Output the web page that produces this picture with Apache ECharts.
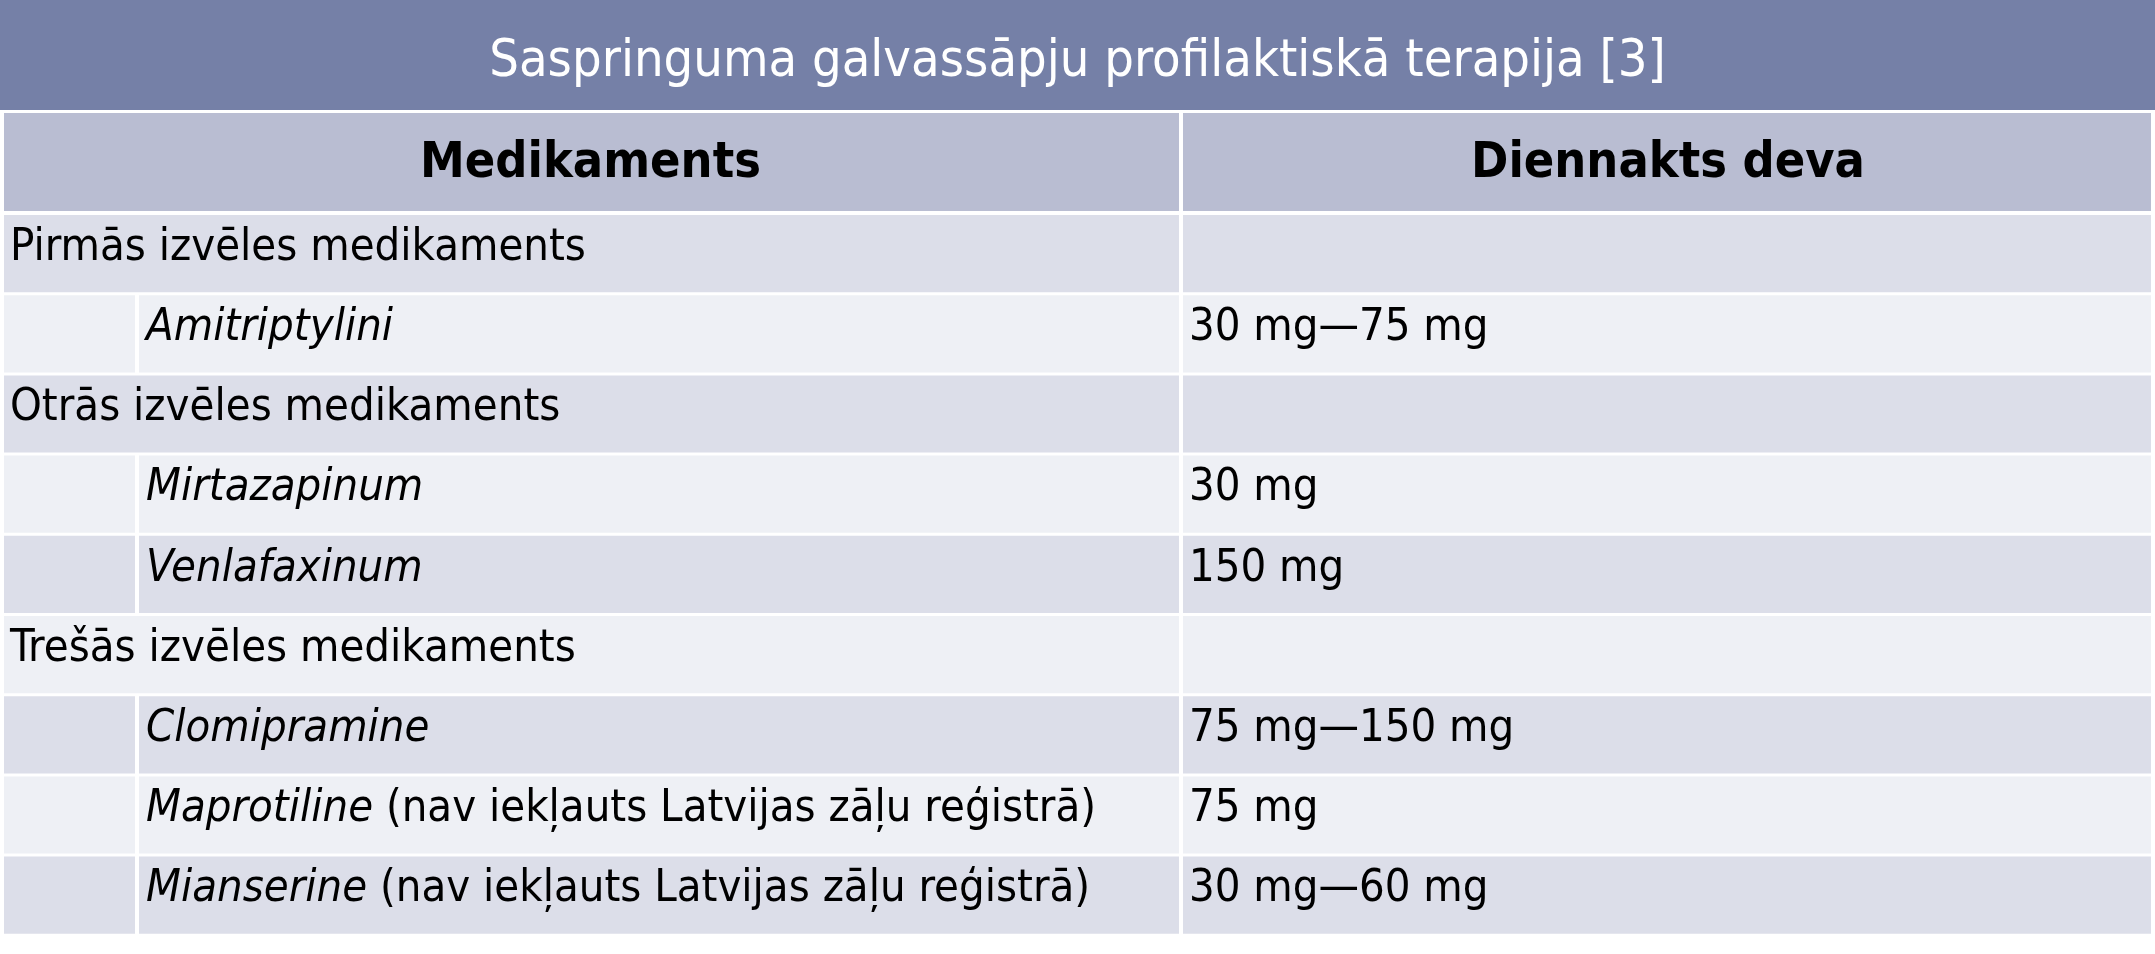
<!DOCTYPE html>
<html><head><meta charset="utf-8">
<script src="https://cdn.jsdelivr.net/npm/echarts@6/dist/echarts.min.js"></script>
<style>html,body{margin:0;background:#fff}#main{width:2155px;height:954px}</style>
</head><body><div id="main"></div>
<script>
var title = 'Saspringuma galvassāpju profilaktiskā terapija [3]';
var headers = ['Medikaments', 'Diennakts deva'];
// level 0 = group row, level 1 = drug row
var drugs = ['Pirmās izvēles medikaments', 'Amitriptylini', 'Otrās izvēles medikaments', 'Mirtazapinum', 'Venlafaxinum',
  'Trešās izvēles medikaments', 'Clomipramine', 'Maprotiline', 'Mianserine'];
var notes = ['', '', '', '', '', '', '', ' (nav iekļauts Latvijas zāļu reģistrā)', ' (nav iekļauts Latvijas zāļu reģistrā)'];
var levels = [0, 1, 0, 1, 1, 0, 1, 1, 1];
var doses = ['', '30 mg—75 mg', '', '30 mg', '150 mg', '', '75 mg—150 mg', '75 mg', '30 mg—60 mg'];

var W = 2155, colX = 1181, indent = 137, rowH = 80.2, top0 = 213;
var font = "'Liberation Sans Narrow','DejaVu Sans Condensed',sans-serif";
var els = [];
function rect(x, y, w, h, c) {
  els.push({type: 'rect', shape: {x: x, y: y, width: w, height: h}, style: {fill: c}});
}
rect(0, 0, W, 110, '#7580a7');
els.push({type: 'text', x: W / 2, y: 62, style: {text: title, font: '52px ' + font, fill: '#fff', textAlign: 'center', textVerticalAlign: 'middle'}});
rect(4, 113, colX - 6, 98, '#b9bdd2');
rect(colX + 2, 113, W - colX - 6, 98, '#b9bdd2');
els.push({type: 'text', x: colX / 2, y: 164, style: {text: headers[0], font: 'bold 50px ' + font, fill: '#000', textAlign: 'center', textVerticalAlign: 'middle'}});
els.push({type: 'text', x: (colX + W) / 2, y: 164, style: {text: headers[1], font: 'bold 50px ' + font, fill: '#000', textAlign: 'center', textVerticalAlign: 'middle'}});
drugs.forEach(function (d, i) {
  var y = top0 + i * rowH, c = i % 2 === 0 ? '#dcdee9' : '#eef0f5';
  if (levels[i] === 0) {
    rect(4, y + 2, colX - 6, rowH - 3, c);
  } else {
    rect(4, y + 2, indent - 6, rowH - 3, c);
    rect(indent + 2, y + 2, colX - indent - 4, rowH - 3, c);
  }
  rect(colX + 2, y + 2, W - colX - 6, rowH - 3, c);
  var tx = levels[i] === 0 ? 10 : indent + 9;
  var ty = y + rowH / 2 - 5;
  els.push({type: 'text', x: tx, y: ty, style: {
    text: levels[i] === 0 ? d : '{i|' + d + '}' + notes[i],
    font: '45px ' + font, fill: '#000', textVerticalAlign: 'middle',
    rich: {i: {font: 'italic 45px ' + font, fill: '#000'}}
  }});
  els.push({type: 'text', x: colX + 8, y: ty, style: {text: doses[i], font: '45px ' + font, fill: '#000', textVerticalAlign: 'middle'}});
});
var myChart = echarts.init(document.getElementById('main'));
myChart.setOption({backgroundColor: '#fff', graphic: {elements: els}});
</script></body></html>
